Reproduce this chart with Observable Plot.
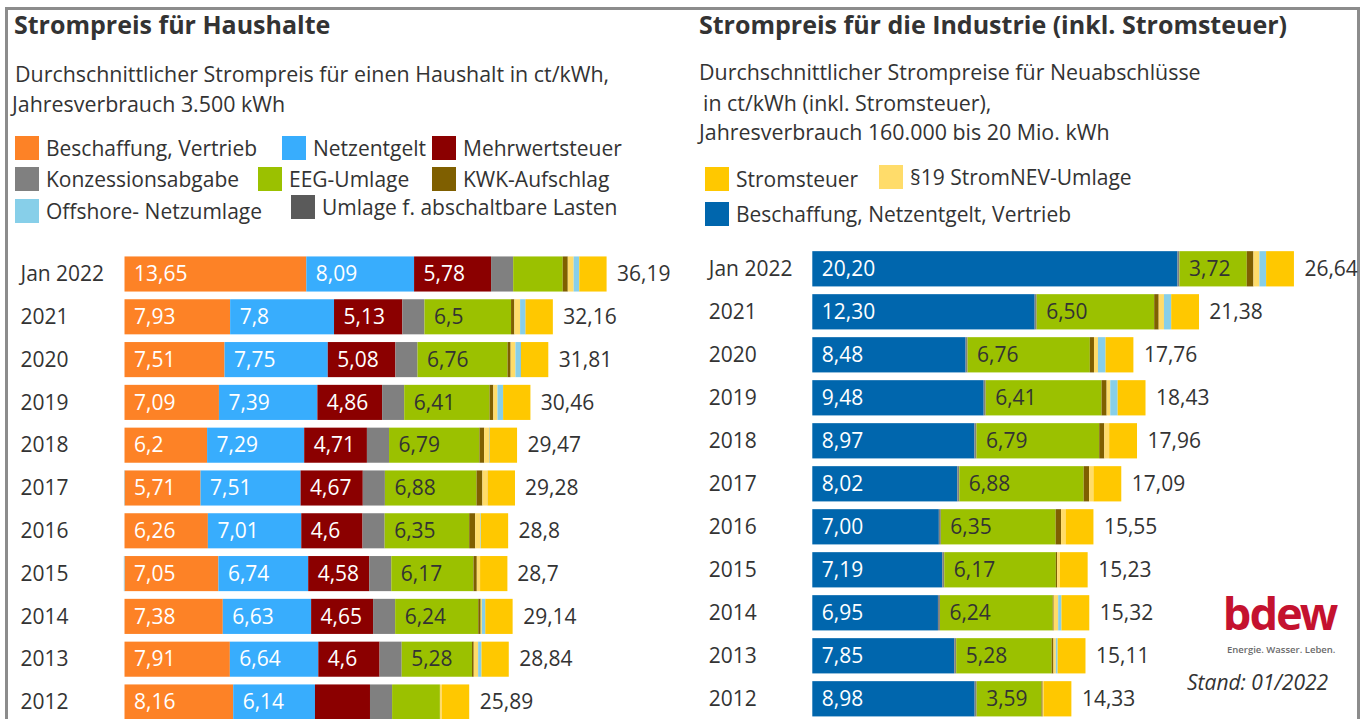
<!DOCTYPE html>
<html><head><meta charset="utf-8">
<script src="https://cdn.jsdelivr.net/npm/d3@7"></script>
<script src="https://cdn.jsdelivr.net/npm/@observablehq/plot@0.6"></script>
<style>
body{margin:0;background:#fff;font-family:"Open Sans",sans-serif;color:#333}
#root{position:relative;width:1367px;height:719px;overflow:hidden;background:#fff}
.abs{position:absolute;white-space:nowrap;line-height:30px}
.title{font-weight:700;font-size:25px}
.sub{font-size:21.4px}
.leg{font-size:21px;display:flex;align-items:center}
.sw{width:24px;height:24px;margin-right:7px;flex:none}
#frame{position:absolute;left:5px;top:7px;width:1355px;height:760px;border:3px solid #8c8c8c;box-sizing:border-box}
</style></head>
<body><div id="root"><div id="frame"></div></div>
<script>
// ---------- data ----------
const years = ["Jan 2022","2021","2020","2019","2018","2017","2016","2015","2014","2013","2012"];

// Haushalte (ct/kWh)
const hhComponents = ["Beschaffung, Vertrieb","Netzentgelt","Mehrwertsteuer","Konzessionsabgabe","EEG-Umlage","KWK-Aufschlag","§19 StromNEV-Umlage","Offshore- Netzumlage","Umlage f. abschaltbare Lasten","Stromsteuer"];
const hhColors = ["#fd8226","#38adfd","#8b0000","#808080","#9bc100","#7f5f00","#ffdc6a","#87cfe9","#5a5a5a","#ffc800"];
const hhBeschaffung = [13.65,7.93,7.51,7.09,6.20,5.71,6.26,7.05,7.38,7.91,8.16];
const hhNetzentgelt = [8.09,7.80,7.75,7.39,7.29,7.51,7.01,6.74,6.63,6.64,6.14];
const hhMwSt = [5.78,5.13,5.08,4.86,4.71,4.67,4.60,4.58,4.65,4.60,4.13];
const hhKonzession = [1.66,1.66,1.66,1.66,1.66,1.66,1.66,1.66,1.66,1.66,1.66];
const hhEEG = [3.72,6.50,6.76,6.41,6.79,6.88,6.35,6.17,6.24,5.28,3.59];
const hhKWK = [0.38,0.25,0.23,0.28,0.35,0.44,0.45,0.25,0.18,0.13,0.00];
const hhP19 = [0.44,0.43,0.36,0.31,0.37,0.39,0.38,0.24,0.09,0.33,0.15];
const hhOffshore = [0.42,0.40,0.41,0.42,0.04,-0.03,0.04,-0.05,0.25,0.25,0.00];
const hhAbLaV = [0.003,0.009,0.007,0.005,0.011,0.006,0.002,0.006,0.009,0,0];
const hhStromsteuer = [2.05,2.05,2.05,2.05,2.05,2.05,2.05,2.05,2.05,2.05,2.05];
const hhTotals = [36.19,32.16,31.81,30.46,29.47,29.28,28.8,28.7,29.14,28.84,25.89];
const hhWhiteLabels = ["Beschaffung, Vertrieb","Netzentgelt","Mehrwertsteuer"];
const hhDarkLabels = ["EEG-Umlage"];
const hhUnlabeled = [["Jan 2022","EEG-Umlage"],["2012","Mehrwertsteuer"],["2012","EEG-Umlage"]];
const hhLegend = [
  ["Beschaffung, Vertrieb","Netzentgelt","Mehrwertsteuer"],
  ["Konzessionsabgabe","EEG-Umlage","KWK-Aufschlag"],
  ["Offshore- Netzumlage","Umlage f. abschaltbare Lasten"]
];

// Industrie (ct/kWh, inkl. Stromsteuer)
const inComponents = ["Beschaffung, Netzentgelt, Vertrieb","Konzessionsabgabe","EEG-Umlage","KWK-Aufschlag","§19 StromNEV-Umlage","Offshore- Netzumlage","Stromsteuer"];
const inColors = ["#0066ad","#808080","#9bc100","#7f5f00","#ffdc6a","#87cfe9","#ffc800"];
const inBNV = [20.20,12.30,8.48,9.48,8.97,8.02,7.00,7.19,6.95,7.85,8.98];
const inKonzession = [0.11,0.11,0.11,0.11,0.11,0.11,0.11,0.11,0.11,0.11,0.11];
const inEEG = [3.72,6.50,6.76,6.41,6.79,6.88,6.35,6.17,6.24,5.28,3.59];
const inKWK = [0.37,0.25,0.23,0.28,0.28,0.30,0.30,0.07,0.05,0.10,0.06];
const inP19 = [0.33,0.29,0.22,0.20,0.27,0.24,0.25,0.15,0.25,0.13,0.05];
const inOffshore = [0.37,0.40,0.42,0.41,0,0,0,0,0.18,0.10,0];
const inStromsteuer = [1.54,1.54,1.54,1.54,1.54,1.54,1.54,1.54,1.54,1.54,1.54];
const inTotals = [26.64,21.38,17.76,18.43,17.96,17.09,15.55,15.23,15.32,15.11,14.33];
const inWhiteLabels = ["Beschaffung, Netzentgelt, Vertrieb"];
const inDarkLabels = ["EEG-Umlage"];
const inLegend = [
  ["Stromsteuer","§19 StromNEV-Umlage"],
  ["Beschaffung, Netzentgelt, Vertrieb"]
];

// ---------- helpers ----------
const root = document.getElementById("root");
function addText(cls, txt, left, top, extra){
  const d = document.createElement("div");
  d.className = "abs " + cls; d.textContent = txt;
  d.style.left = left + "px"; d.style.top = top + "px";
  if (extra) Object.assign(d.style, extra);
  root.appendChild(d); return d;
}
function addLegendItem(name, color, left, top){
  const d = document.createElement("div");
  d.className = "abs leg"; d.style.left = left + "px"; d.style.top = top + "px";
  const s = document.createElement("span"); s.className = "sw"; s.style.background = color;
  const t = document.createElement("span"); t.textContent = name;
  d.appendChild(s); d.appendChild(t); root.appendChild(d);
}
const fmtH = v => String(+v.toFixed(2)).replace(".", ",");
const fmtI = v => v.toFixed(2).replace(".", ",");

function rowsOf(series, comps){
  return years.flatMap((y,i) => comps.map((c,j) => ({year:y, component:c, value:series[j][i]})));
}

function panel({rows, comps, colors, totals, white, dark, skip, fmt, left, width, marginLeft, xmax, marginTop, step, labelDx}){
  const skipSet = new Set((skip||[]).map(d => d.join("|")));
  const show = (d, list) => list.includes(d.component) && !skipSet.has(d.year + "|" + d.component) ? fmt(d.value) : null;
  const pad = 0.18;
  const height = 760;
  const rangeLen = step * (years.length + pad);
  const svg = Plot.plot({
    width, height,
    marginLeft, marginRight: 0, marginTop, marginBottom: height - marginTop - rangeLen,
    style: {background: "transparent", overflow: "visible", fontFamily: "'Open Sans', sans-serif", color: "#333"},
    x: {domain: [0, xmax], axis: null},
    y: {domain: years, padding: pad, axis: null, round: false},
    color: {domain: comps, range: colors},
    marks: [
      Plot.barX(rows, Plot.stackX({x: "value", y: "year", z: "component", fill: "component"})),
      Plot.text(rows, Plot.stackX1({x: "value", y: "year", z: "component", text: d => show(d, white), fill: "white", textAnchor: "start", dx: 9, fontSize: 21})),
      Plot.text(rows, Plot.stackX1({x: "value", y: "year", z: "component", text: d => show(d, dark), fill: "#333", textAnchor: "start", dx: 9, fontSize: 21})),
      Plot.text(years, {y: d => d, text: d => d, frameAnchor: "left", textAnchor: "start", dx: labelDx, fontSize: 21, fill: "#333"}),
      Plot.text(years.map((y,i) => ({year: y, total: totals[i]})), {x: "total", y: "year", text: d => fmt(d.total), textAnchor: "start", dx: 10, fontSize: 21, fill: "#333"})
    ]
  });
  svg.style.position = "absolute"; svg.style.left = left + "px"; svg.style.top = "0px";
  root.appendChild(svg);
}

// ---------- left panel: Haushalte ----------
addText("title", "Strompreis für Haushalte", 14, 9);
addText("sub", "Durchschnittlicher Strompreis für einen Haushalt in ct/kWh,", 15, 59);
addText("sub", "Jahresverbrauch 3.500 kWh", 12, 89);
const hhLegendPos = [[[15,133],[282,133],[432,133]],[[15,164],[258,164],[432,164]],[[15,196],[291,192]]];
hhLegend.forEach((row, r) => row.forEach((name, c) => {
  const [x, y] = hhLegendPos[r][c];
  addLegendItem(name, hhColors[hhComponents.indexOf(name)], x, y);
}));

panel({
  rows: rowsOf([hhBeschaffung,hhNetzentgelt,hhMwSt,hhKonzession,hhEEG,hhKWK,hhP19,hhOffshore,hhAbLaV,hhStromsteuer], hhComponents),
  comps: hhComponents, colors: hhColors, totals: hhTotals,
  white: hhWhiteLabels, dark: hhDarkLabels, skip: hhUnlabeled, fmt: fmtH,
  left: 0, width: 124.5 + 42 * 13.32, marginLeft: 124.5, xmax: 42,
  marginTop: 274 - 42.8 * 0.59, step: 42.8, labelDx: -104.5
});

// ---------- right panel: Industrie ----------
addText("title", "Strompreis für die Industrie (inkl. Stromsteuer)", 699, 9);
addText("sub", "Durchschnittlicher Strompreise für Neuabschlüsse", 699, 57);
addText("sub", "in ct/kWh (inkl. Stromsteuer),", 703, 88);
addText("sub", "Jahresverbrauch 160.000 bis 20 Mio. kWh", 699, 117);
const inLegendPos = [[[705,164],[879,162]],[[705,199]]];
inLegend.forEach((row, r) => row.forEach((name, c) => {
  const [x, y] = inLegendPos[r][c];
  addLegendItem(name, inColors[inComponents.indexOf(name)], x, y);
}));

panel({
  rows: rowsOf([inBNV,inKonzession,inEEG,inKWK,inP19,inOffshore,inStromsteuer], inComponents),
  comps: inComponents, colors: inColors, totals: inTotals,
  white: inWhiteLabels, dark: inDarkLabels, skip: [], fmt: fmtI,
  left: 690, width: 122.3 + 30 * 18.08, marginLeft: 122.3, xmax: 30,
  marginTop: 268.8 - 43 * 0.59, step: 43, labelDx: -104
});

// ---------- logo & note ----------
addText("", "bdew", 1223, 590, {fontFamily: "'Noto Sans', sans-serif", fontWeight: "700", fontSize: "45px", lineHeight: "46px", color: "#c4122f", letterSpacing: "-2px"});
addText("", "Energie. Wasser. Leben.", 1227, 640, {fontSize: "9.5px", fontWeight: "600", color: "#6b6b6b", lineHeight: "20px"});
addText("", "Stand: 01/2022", 1187, 667, {fontSize: "21px", fontStyle: "italic", color: "#333"});
</script>
</body></html>
